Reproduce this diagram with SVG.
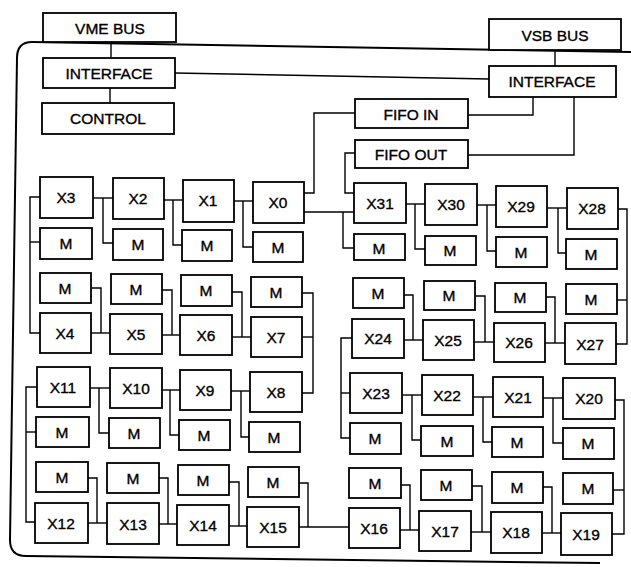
<svg xmlns="http://www.w3.org/2000/svg" width="631" height="567" viewBox="0 0 631 567">
<style>
.b{fill:#fff;stroke:#000;stroke-width:1.8}
.t{font-family:"Liberation Sans",Arial,sans-serif;font-size:15.5px;text-anchor:middle;dominant-baseline:central;fill:#000;stroke:#000;stroke-width:0.35}
.c{fill:none;stroke:#000;stroke-width:1.4}
.f{fill:none;stroke:#000;stroke-width:2}
</style>
<rect width="631" height="567" fill="#fff"/>
<path class="f" d="M631,52 L32,42 Q17,42 17,58 L10,540 Q10,556 26,556 L600,563"/>
<g id="connectors" class="c">
<polyline points="111,42 111,58"/>
<polyline points="110,88 110,103"/>
<polyline points="175,73 489,79"/>
<polyline points="555,50 555,66"/>
<polyline points="533,97 533,115 468,115"/>
<polyline points="574,97 574,155 468,155"/>
<polyline points="355,113 314,113 314,193 304,193"/>
<polyline points="355,153 345,153 345,193 354,193"/>
<polyline points="304,212 354,212"/>
<polyline points="343,212 343,248 354,248"/>
<polyline points="40,197 30,197 30,333 40,333"/>
<polyline points="30,242 40,242"/>
<polyline points="93,198 113,198"/>
<polyline points="103,198 103,243 113,243"/>
<polyline points="164,200 183,200"/>
<polyline points="173,200 173,245 182,245"/>
<polyline points="234,201 253,201"/>
<polyline points="243,201 243,247 253,247"/>
<polyline points="91,333 110,333"/>
<polyline points="91,288 101,288 101,333"/>
<polyline points="162,335 180,335"/>
<polyline points="162,290 172,290 172,335"/>
<polyline points="232,337 251,337"/>
<polyline points="232,292 242,292 242,337"/>
<polyline points="302,337 313,337"/>
<polyline points="302,293 313,293 313,393 302,393"/>
<polyline points="37,387 26,387 26,522 35,522"/>
<polyline points="26,432 36,432"/>
<polyline points="90,388 110,388"/>
<polyline points="99,388 99,433 109,433"/>
<polyline points="162,390 180,390"/>
<polyline points="170,390 170,435 179,435"/>
<polyline points="231,391 250,391"/>
<polyline points="241,391 241,437 249,437"/>
<polyline points="88,523 107,523"/>
<polyline points="88,478 97,478 97,523"/>
<polyline points="159,524 177,524"/>
<polyline points="159,478 168,478 168,524"/>
<polyline points="229,526 247,526"/>
<polyline points="229,482 239,482 239,526"/>
<polyline points="299,527 349,527"/>
<polyline points="299,483 308,483 308,527"/>
<polyline points="406,204 425,204"/>
<polyline points="415,204 415,249 425,249"/>
<polyline points="477,205 496,205"/>
<polyline points="487,205 487,251 496,251"/>
<polyline points="547,208 567,208"/>
<polyline points="558,208 558,253 566,253"/>
<polyline points="618,209 627,209 627,344 616,344"/>
<polyline points="617,300 627,300"/>
<polyline points="404,340 423,340"/>
<polyline points="404,295 413,295 413,340"/>
<polyline points="474,342 494,342"/>
<polyline points="475,296 485,296 485,342"/>
<polyline points="545,343 565,343"/>
<polyline points="546,297 555,297 555,343"/>
<polyline points="352,338 341,338 341,438 350,438"/>
<polyline points="341,393 350,393"/>
<polyline points="402,395 422,395"/>
<polyline points="412,395 412,440 421,440"/>
<polyline points="473,397 493,397"/>
<polyline points="483,397 483,442 492,442"/>
<polyline points="543,398 563,398"/>
<polyline points="553,398 553,443 563,443"/>
<polyline points="615,400 624,400 624,534 612,534"/>
<polyline points="613,490 624,490"/>
<polyline points="400,530 419,530"/>
<polyline points="401,485 410,485 410,530"/>
<polyline points="471,532 491,532"/>
<polyline points="472,486 482,486 482,532"/>
<polyline points="542,533 561,533"/>
<polyline points="543,487 552,487 552,533"/>
</g>
<g id="vme-bus"><rect class="b" x="43" y="13" width="133" height="29"/><text class="t" x="110" y="28">VME BUS</text></g>
<g id="interface-vme"><rect class="b" x="43" y="58" width="132" height="30"/><text class="t" x="109" y="73">INTERFACE</text></g>
<g id="control"><rect class="b" x="42" y="103" width="132" height="31"/><text class="t" x="108" y="118">CONTROL</text></g>
<g id="vsb-bus"><rect class="b" x="489" y="19" width="132" height="31"/><text class="t" x="555" y="35">VSB BUS</text></g>
<g id="interface-vsb"><rect class="b" x="489" y="66" width="127" height="31"/><text class="t" x="552" y="81">INTERFACE</text></g>
<g id="fifo-in"><rect class="b" x="355" y="99" width="113" height="29"/><text class="t" x="411" y="114">FIFO IN</text></g>
<g id="fifo-out"><rect class="b" x="355" y="140" width="113" height="28"/><text class="t" x="411" y="154">FIFO OUT</text></g>
<g id="x3"><rect class="b" x="40" y="177" width="53" height="41"/><text class="t" x="66" y="197">X3</text></g>
<g id="m3"><rect class="b" x="40" y="228" width="52" height="31"/><text class="t" x="66" y="243">M</text></g>
<g id="x2"><rect class="b" x="113" y="178" width="51" height="41"/><text class="t" x="138" y="198">X2</text></g>
<g id="m2"><rect class="b" x="113" y="229" width="50" height="31"/><text class="t" x="138" y="244">M</text></g>
<g id="x1"><rect class="b" x="183" y="180" width="51" height="42"/><text class="t" x="208" y="200">X1</text></g>
<g id="m1"><rect class="b" x="182" y="230" width="50" height="31"/><text class="t" x="207" y="245">M</text></g>
<g id="x0"><rect class="b" x="253" y="182" width="51" height="41"/><text class="t" x="278" y="202">X0</text></g>
<g id="m0"><rect class="b" x="253" y="232" width="50" height="30"/><text class="t" x="278" y="247">M</text></g>
<g id="m4"><rect class="b" x="40" y="273" width="51" height="30"/><text class="t" x="65" y="288">M</text></g>
<g id="x4"><rect class="b" x="40" y="313" width="51" height="40"/><text class="t" x="65" y="333">X4</text></g>
<g id="m5"><rect class="b" x="111" y="274" width="51" height="30"/><text class="t" x="136" y="289">M</text></g>
<g id="x5"><rect class="b" x="110" y="314" width="52" height="40"/><text class="t" x="136" y="334">X5</text></g>
<g id="m6"><rect class="b" x="181" y="275" width="51" height="31"/><text class="t" x="206" y="290">M</text></g>
<g id="x6"><rect class="b" x="180" y="315" width="52" height="40"/><text class="t" x="206" y="335">X6</text></g>
<g id="m7"><rect class="b" x="251" y="277" width="51" height="30"/><text class="t" x="276" y="292">M</text></g>
<g id="x7"><rect class="b" x="251" y="317" width="51" height="40"/><text class="t" x="276" y="337">X7</text></g>
<g id="x11"><rect class="b" x="37" y="367" width="53" height="40"/><text class="t" x="63" y="387">X11</text></g>
<g id="m11"><rect class="b" x="36" y="417" width="53" height="30"/><text class="t" x="62" y="432">M</text></g>
<g id="x10"><rect class="b" x="110" y="368" width="52" height="40"/><text class="t" x="136" y="388">X10</text></g>
<g id="m10"><rect class="b" x="109" y="418" width="51" height="30"/><text class="t" x="134" y="433">M</text></g>
<g id="x9"><rect class="b" x="180" y="370" width="51" height="40"/><text class="t" x="205" y="390">X9</text></g>
<g id="m9"><rect class="b" x="179" y="420" width="51" height="30"/><text class="t" x="204" y="435">M</text></g>
<g id="x8"><rect class="b" x="250" y="372" width="52" height="40"/><text class="t" x="276" y="392">X8</text></g>
<g id="m8"><rect class="b" x="249" y="422" width="51" height="30"/><text class="t" x="274" y="437">M</text></g>
<g id="m12"><rect class="b" x="36" y="462" width="52" height="30"/><text class="t" x="62" y="477">M</text></g>
<g id="x12"><rect class="b" x="35" y="503" width="53" height="40"/><text class="t" x="61" y="523">X12</text></g>
<g id="m13"><rect class="b" x="107" y="463" width="52" height="30"/><text class="t" x="133" y="478">M</text></g>
<g id="x13"><rect class="b" x="107" y="503" width="52" height="41"/><text class="t" x="133" y="524">X13</text></g>
<g id="m14"><rect class="b" x="178" y="465" width="51" height="30"/><text class="t" x="203" y="480">M</text></g>
<g id="x14"><rect class="b" x="177" y="505" width="52" height="40"/><text class="t" x="203" y="525">X14</text></g>
<g id="m15"><rect class="b" x="248" y="467" width="51" height="30"/><text class="t" x="273" y="482">M</text></g>
<g id="x15"><rect class="b" x="247" y="507" width="52" height="40"/><text class="t" x="273" y="527">X15</text></g>
<g id="x31"><rect class="b" x="354" y="183" width="52" height="40"/><text class="t" x="380" y="203">X31</text></g>
<g id="m31"><rect class="b" x="354" y="234" width="51" height="26"/><text class="t" x="379" y="248">M</text></g>
<g id="x30"><rect class="b" x="425" y="184" width="52" height="41"/><text class="t" x="451" y="204">X30</text></g>
<g id="m30"><rect class="b" x="425" y="236" width="51" height="29"/><text class="t" x="450" y="250">M</text></g>
<g id="x29"><rect class="b" x="496" y="186" width="51" height="41"/><text class="t" x="521" y="206">X29</text></g>
<g id="m29"><rect class="b" x="496" y="237" width="51" height="30"/><text class="t" x="521" y="252">M</text></g>
<g id="x28"><rect class="b" x="567" y="188" width="51" height="41"/><text class="t" x="592" y="208">X28</text></g>
<g id="m28"><rect class="b" x="566" y="239" width="51" height="30"/><text class="t" x="591" y="254">M</text></g>
<g id="m24"><rect class="b" x="353" y="278" width="51" height="30"/><text class="t" x="378" y="293">M</text></g>
<g id="x24"><rect class="b" x="352" y="319" width="52" height="39"/><text class="t" x="378" y="338">X24</text></g>
<g id="m25"><rect class="b" x="424" y="281" width="51" height="29"/><text class="t" x="449" y="295">M</text></g>
<g id="x25"><rect class="b" x="423" y="320" width="51" height="40"/><text class="t" x="448" y="340">X25</text></g>
<g id="m26"><rect class="b" x="495" y="283" width="51" height="29"/><text class="t" x="520" y="297">M</text></g>
<g id="x26"><rect class="b" x="494" y="323" width="51" height="39"/><text class="t" x="519" y="342">X26</text></g>
<g id="m27"><rect class="b" x="566" y="284" width="51" height="30"/><text class="t" x="591" y="299">M</text></g>
<g id="x27"><rect class="b" x="565" y="323" width="51" height="41"/><text class="t" x="590" y="344">X27</text></g>
<g id="x23"><rect class="b" x="350" y="373" width="52" height="40"/><text class="t" x="376" y="393">X23</text></g>
<g id="m23"><rect class="b" x="350" y="423" width="51" height="31"/><text class="t" x="375" y="438">M</text></g>
<g id="x22"><rect class="b" x="422" y="375" width="51" height="40"/><text class="t" x="447" y="395">X22</text></g>
<g id="m22"><rect class="b" x="421" y="426" width="52" height="30"/><text class="t" x="447" y="441">M</text></g>
<g id="x21"><rect class="b" x="493" y="377" width="50" height="40"/><text class="t" x="518" y="397">X21</text></g>
<g id="m21"><rect class="b" x="492" y="427" width="51" height="30"/><text class="t" x="517" y="442">M</text></g>
<g id="x20"><rect class="b" x="563" y="378" width="52" height="41"/><text class="t" x="589" y="398">X20</text></g>
<g id="m20"><rect class="b" x="563" y="428" width="51" height="31"/><text class="t" x="588" y="443">M</text></g>
<g id="m16"><rect class="b" x="349" y="468" width="52" height="30"/><text class="t" x="375" y="483">M</text></g>
<g id="x16"><rect class="b" x="349" y="508" width="51" height="40"/><text class="t" x="374" y="528">X16</text></g>
<g id="m17"><rect class="b" x="421" y="470" width="51" height="30"/><text class="t" x="446" y="485">M</text></g>
<g id="x17"><rect class="b" x="419" y="511" width="52" height="40"/><text class="t" x="445" y="531">X17</text></g>
<g id="m18"><rect class="b" x="492" y="472" width="51" height="31"/><text class="t" x="517" y="487">M</text></g>
<g id="x18"><rect class="b" x="491" y="512" width="51" height="41"/><text class="t" x="516" y="532">X18</text></g>
<g id="m19"><rect class="b" x="563" y="473" width="50" height="31"/><text class="t" x="588" y="488">M</text></g>
<g id="x19"><rect class="b" x="561" y="513" width="51" height="42"/><text class="t" x="586" y="534">X19</text></g>
</svg>
